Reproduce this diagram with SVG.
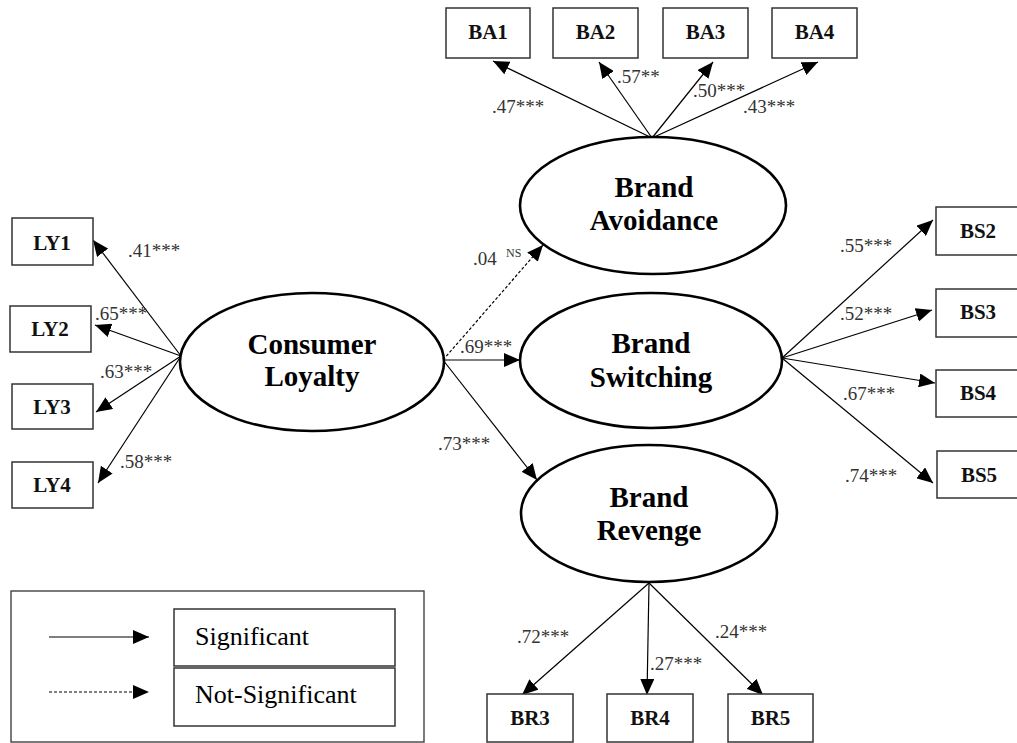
<svg xmlns="http://www.w3.org/2000/svg" width="1017" height="743" viewBox="0 0 1017 743" font-family="Liberation Serif, Tinos, Times New Roman, Times, DejaVu Serif, Noto Serif, FreeSerif, serif">
  <defs>
    <marker id="arrow" markerUnits="userSpaceOnUse" markerWidth="16" markerHeight="14" refX="16" refY="7" orient="auto">
      <path d="M0,0 L16,7 L0,14 z" fill="#000"/>
    </marker>
  </defs>
  <style>
    .item { fill: #fff; stroke: #333; stroke-width: 1.5; }
    .latent { fill: #fff; stroke: #000; stroke-width: 2.6; }
    .itemtxt { font-weight: bold; font-size: 21px; fill: #111; text-anchor: middle; }
    .lattxt { font-weight: bold; font-size: 29px; fill: #000; text-anchor: middle; }
    .coef { font-size: 19px; fill: #333; }
    .sup { font-size: 12px; fill: #333; }
    .edge { stroke: #000; stroke-width: 1.2; fill: none; marker-end: url(#arrow); }
    .dashed { stroke-dasharray: 3 2; }
    .legtxt { font-size: 26px; fill: #000; }
  </style>
  <rect width="1017" height="743" fill="#fff"/>

  <!-- paths between constructs and indicators -->
  <g id="connectors">
    <!-- Consumer Loyalty to LY items -->
    <line class="edge" x1="181" y1="356" x2="93" y2="240"/>
    <line class="edge" x1="181" y1="356" x2="95" y2="325"/>
    <line class="edge" x1="181" y1="356" x2="96" y2="412"/>
    <line class="edge" x1="181" y1="356" x2="98" y2="483"/>
    <!-- structural paths -->
    <line class="edge dashed" x1="443" y1="360" x2="543" y2="245"/>
    <line class="edge" x1="443" y1="360" x2="520" y2="360"/>
    <line class="edge" x1="443" y1="360" x2="537" y2="480"/>
    <!-- Brand Avoidance to BA items -->
    <line class="edge" x1="652" y1="138" x2="493" y2="61"/>
    <line class="edge" x1="652" y1="138" x2="599" y2="62"/>
    <line class="edge" x1="652" y1="138" x2="713" y2="62"/>
    <line class="edge" x1="652" y1="138" x2="818" y2="62"/>
    <!-- Brand Switching to BS items -->
    <line class="edge" x1="782" y1="358" x2="933" y2="220"/>
    <line class="edge" x1="782" y1="358" x2="932" y2="310"/>
    <line class="edge" x1="782" y1="358" x2="935" y2="383"/>
    <line class="edge" x1="782" y1="358" x2="933" y2="483"/>
    <!-- Brand Revenge to BR items -->
    <line class="edge" x1="649" y1="583" x2="522" y2="695"/>
    <line class="edge" x1="649" y1="583" x2="647" y2="695"/>
    <line class="edge" x1="649" y1="583" x2="763" y2="695"/>
  </g>

  <!-- path coefficients -->
  <g id="coefficients">
    <text class="coef" x="128" y="257">.41***</text>
    <text class="coef" x="95" y="320">.65***</text>
    <text class="coef" x="100" y="378">.63***</text>
    <text class="coef" x="120" y="468">.58***</text>
    <text class="coef" x="473" y="265">.04</text>
    <text class="sup" x="506" y="257">NS</text>
    <text class="coef" x="460" y="353">.69***</text>
    <text class="coef" x="438" y="450">.73***</text>
    <text class="coef" x="492" y="113">.47***</text>
    <text class="coef" x="617" y="83">.57**</text>
    <text class="coef" x="693" y="97">.50***</text>
    <text class="coef" x="743" y="113">.43***</text>
    <text class="coef" x="840" y="252">.55***</text>
    <text class="coef" x="840" y="320">.52***</text>
    <text class="coef" x="843" y="400">.67***</text>
    <text class="coef" x="845" y="482">.74***</text>
    <text class="coef" x="517" y="643">.72***</text>
    <text class="coef" x="650" y="670">.27***</text>
    <text class="coef" x="715" y="638">.24***</text>
  </g>

  <!-- latent constructs -->
  <g id="consumer-loyalty">
    <ellipse class="latent" cx="312" cy="362" rx="132" ry="69"/>
    <text class="lattxt" x="312" y="354" font-size="31">Consumer</text>
    <text class="lattxt" x="312" y="386" font-size="31">Loyalty</text>
  </g>
  <g id="brand-avoidance">
    <ellipse class="latent" cx="653" cy="205.5" rx="133" ry="68.5"/>
    <text class="lattxt" x="654" y="197">Brand</text>
    <text class="lattxt" x="654" y="230">Avoidance</text>
  </g>
  <g id="brand-switching">
    <ellipse class="latent" cx="651" cy="360.5" rx="131" ry="67.5"/>
    <text class="lattxt" x="651" y="353">Brand</text>
    <text class="lattxt" x="651" y="387">Switching</text>
  </g>
  <g id="brand-revenge">
    <ellipse class="latent" cx="649" cy="513.5" rx="128" ry="68.5"/>
    <text class="lattxt" x="649" y="507">Brand</text>
    <text class="lattxt" x="649" y="540">Revenge</text>
  </g>

  <!-- observed indicators -->
  <g id="LY1"><rect class="item" x="12" y="218" width="81" height="47"/><text class="itemtxt" x="52" y="250">LY1</text></g>
  <g id="LY2"><rect class="item" x="10" y="306" width="81" height="46"/><text class="itemtxt" x="50" y="336">LY2</text></g>
  <g id="LY3"><rect class="item" x="12" y="384" width="81" height="45"/><text class="itemtxt" x="52" y="414">LY3</text></g>
  <g id="LY4"><rect class="item" x="12" y="462" width="81" height="46"/><text class="itemtxt" x="52" y="492">LY4</text></g>

  <g id="BA1"><rect class="item" x="446" y="8" width="84" height="50"/><text class="itemtxt" x="488" y="39">BA1</text></g>
  <g id="BA2"><rect class="item" x="553" y="8" width="85" height="50"/><text class="itemtxt" x="595.5" y="39">BA2</text></g>
  <g id="BA3"><rect class="item" x="663" y="8" width="85" height="50"/><text class="itemtxt" x="705.5" y="39">BA3</text></g>
  <g id="BA4"><rect class="item" x="772" y="8" width="85" height="50"/><text class="itemtxt" x="814.5" y="39">BA4</text></g>

  <g id="BS2"><rect class="item" x="936" y="207" width="86" height="48"/><text class="itemtxt" x="978" y="238">BS2</text></g>
  <g id="BS3"><rect class="item" x="936" y="289" width="86" height="48"/><text class="itemtxt" x="978" y="319">BS3</text></g>
  <g id="BS4"><rect class="item" x="936" y="370" width="86" height="47"/><text class="itemtxt" x="978" y="400">BS4</text></g>
  <g id="BS5"><rect class="item" x="937" y="451" width="86" height="47"/><text class="itemtxt" x="979" y="482">BS5</text></g>

  <g id="BR3"><rect class="item" x="487" y="694" width="86" height="48"/><text class="itemtxt" x="530" y="725">BR3</text></g>
  <g id="BR4"><rect class="item" x="607" y="694" width="86" height="48"/><text class="itemtxt" x="650" y="725">BR4</text></g>
  <g id="BR5"><rect class="item" x="728" y="694" width="85" height="48"/><text class="itemtxt" x="770.5" y="725">BR5</text></g>

  <!-- key -->
  <g id="legend">
    <rect x="11" y="591" width="413" height="151" fill="#fff" stroke="#333" stroke-width="1.3"/>
    <line class="edge" x1="49" y1="637" x2="149" y2="637"/>
    <line class="edge dashed" x1="49" y1="692" x2="149" y2="692"/>
    <rect class="item" x="174" y="609" width="221" height="57"/>
    <rect class="item" x="174" y="668" width="221" height="58"/>
    <text class="legtxt" x="195" y="645">Significant</text>
    <text class="legtxt" x="195" y="703">Not-Significant</text>
  </g>
</svg>
